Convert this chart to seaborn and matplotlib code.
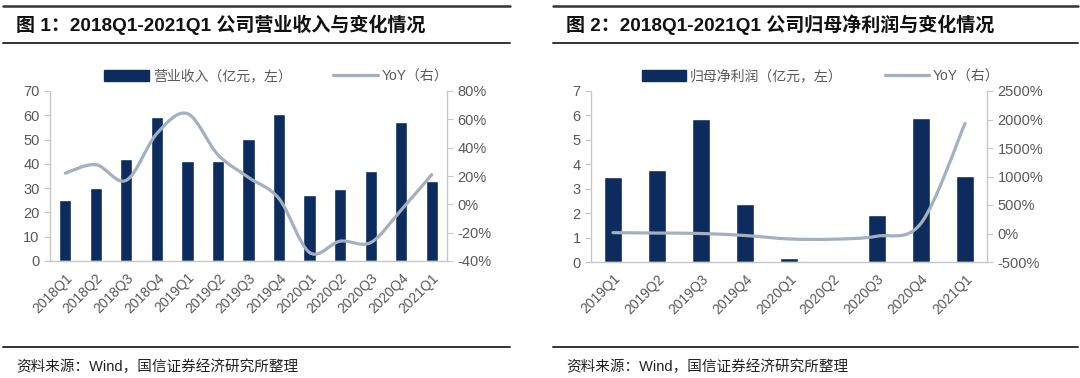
import numpy as np
import pandas as pd
import matplotlib
matplotlib.use("Agg")
import matplotlib.pyplot as plt
import seaborn as sns
from matplotlib.path import Path
from matplotlib.patches import PathPatch, Patch
from matplotlib.lines import Line2D
from matplotlib.ticker import FuncFormatter, MultipleLocator, FixedLocator

# ---- data ----
quarters1 = ["2018Q1", "2018Q2", "2018Q3", "2018Q4", "2019Q1", "2019Q2", "2019Q3",
             "2019Q4", "2020Q1", "2020Q2", "2020Q3", "2020Q4", "2021Q1"]
revenue = [25.0, 30.0, 42.2, 59.3, 41.0, 41.0, 50.2, 60.5, 27.3, 29.8, 37.0, 57.3, 32.8]
revenue_yoy = [22, 28, 17, 50, 64, 35, 19, 4, -34, -26, -27, -4, 21]

quarters2 = ["2019Q1", "2019Q2", "2019Q3", "2019Q4", "2020Q1", "2020Q2", "2020Q3",
             "2020Q4", "2021Q1"]
profit = [3.46, 3.75, 5.84, 2.39, 0.15, 0.01, 1.92, 5.90, 3.52]
profit_yoy = [15, 8, 0, -35, -95, -100, -47, 180, 1930]

titles = ["图 1：2018Q1-2021Q1 公司营业收入与变化情况",
          "图 2：2018Q1-2021Q1 公司归母净利润与变化情况"]
bar_labels = ["营业收入（亿元，左）", "归母净利润（亿元，左）"]
line_label = "YoY（右）"
source = "资料来源：Wind，国信证券经济研究所整理"

BAR = "#0c2c5e"
LINE = "#a3b0c0"
GREY = "#595959"
SPINE = "#c8c8c8"

sns.set_style("white")
plt.rcParams["font.family"] = ["Liberation Sans", "Noto Sans CJK SC"]


def smooth_path(x, y):
    # cubic bezier through the data points (like Excel's smoothed line)
    x = np.asarray(x, float)
    y = np.asarray(y, float)
    pts = np.column_stack([x, y])
    verts = [pts[0]]
    codes = [Path.MOVETO]
    n = len(pts)
    for i in range(n - 1):
        p0 = pts[max(i - 1, 0)]
        p1 = pts[i]
        p2 = pts[i + 1]
        p3 = pts[min(i + 2, n - 1)]
        c1 = p1 + (p2 - p0) / 6
        c2 = p2 - (p3 - p1) / 6
        verts += [c1, c2, p2]
        codes += [Path.CURVE4] * 3
    return Path(verts, codes)


def panel(ax, cats, bars, yoy, ylim, ystep, y2lim, y2step, bar_label, leg_x):
    df = pd.DataFrame({"q": cats, "v": bars})
    sns.barplot(data=df, x="q", y="v", color=BAR, width=0.4, saturation=1, ax=ax)
    n = len(cats)
    ax.set_xlim(-0.5, n - 0.5)
    ax.set_ylim(*ylim)
    ax.yaxis.set_major_locator(MultipleLocator(ystep))
    ax.set_xlabel("")
    ax.set_ylabel("")
    ax.set_xticks(range(n))
    ax.set_xticklabels(cats, rotation=45, ha="right", rotation_mode="anchor",
                       fontsize=10, color=GREY)
    ax.xaxis.set_minor_locator(FixedLocator(np.arange(n + 1) - 0.5))
    ax.tick_params(axis="x", which="major", length=0, pad=7)
    ax.tick_params(axis="x", which="minor", length=4, color=SPINE, direction="out")
    ax.tick_params(axis="y", length=4, color=SPINE, labelsize=10.5, labelcolor=GREY,
                   direction="out")
    for s in ["top", "right"]:
        ax.spines[s].set_visible(False)
    for s in ["left", "bottom"]:
        ax.spines[s].set_color(SPINE)
        ax.spines[s].set_linewidth(1.0)

    ax2 = ax.twinx()
    ax2.set_ylim(*y2lim)
    ax2.yaxis.set_major_locator(MultipleLocator(y2step))
    ax2.yaxis.set_major_formatter(FuncFormatter(lambda v, p: f"{v:.0f}%"))
    ax2.add_patch(PathPatch(smooth_path(np.arange(n), yoy), facecolor="none",
                            edgecolor=LINE, lw=2.3, capstyle="round"))
    ax2.tick_params(axis="y", length=4, color=SPINE, labelsize=10.5, labelcolor=GREY,
                    direction="out")
    for s in ["top", "left", "bottom"]:
        ax2.spines[s].set_visible(False)
    ax2.spines["right"].set_color(SPINE)
    ax2.spines["right"].set_linewidth(1.0)
    ax2.set_xlim(-0.5, n - 0.5)

    handles = [Patch(facecolor=BAR, edgecolor=BAR),
               Line2D([0], [0], color=LINE, lw=2.3)]
    ax.legend(handles, [bar_label, line_label], loc="center", ncol=2,
              bbox_to_anchor=(leg_x, 1.085), frameon=False, fontsize=10,
              labelcolor=GREY, handlelength=3.2, handleheight=0.8,
              columnspacing=3.0, handletextpad=0.3, borderaxespad=0)


fig = plt.figure(figsize=(10.8, 3.78), dpi=100)
W, H = 1080, 378
axL = fig.add_axes([50 / W, 1 - 261 / H, 397 / W, 170 / H])
axR = fig.add_axes([591 / W, 1 - 262 / H, 396 / W, 171 / H])

panel(axL, quarters1, revenue, revenue_yoy, (0, 70), 10, (-40, 80), 20, bar_labels[0], 0.57)
panel(axR, quarters2, profit, profit_yoy, (0, 7), 1, (-500, 2500), 500, bar_labels[1], 0.58)

# header / footer rules and texts
for x0, x1, tx in [(3, 510, 16), (553, 1078, 566)]:
    fig.add_artist(Line2D([x0 / W, x1 / W], [1 - 5.5 / H] * 2, color="#333333", lw=1.8))
    fig.add_artist(Line2D([x0 / W, x1 / W], [1 - 43 / H] * 2, color="#333333", lw=1.4))
    fig.add_artist(Line2D([x0 / W, x1 / W], [1 - 347 / H] * 2, color="#333333", lw=1.4))
for tx, t in zip([16, 566], titles):
    fig.text(tx / W, 1 - 25 / H, t, fontsize=13.7, fontweight="bold", va="center",
             ha="left", color="#111111")
    fig.text(tx / W, 1 - 367 / H, source, fontsize=10.5, va="center", ha="left",
             color="#222222")

fig.savefig("out.png", dpi=100)
